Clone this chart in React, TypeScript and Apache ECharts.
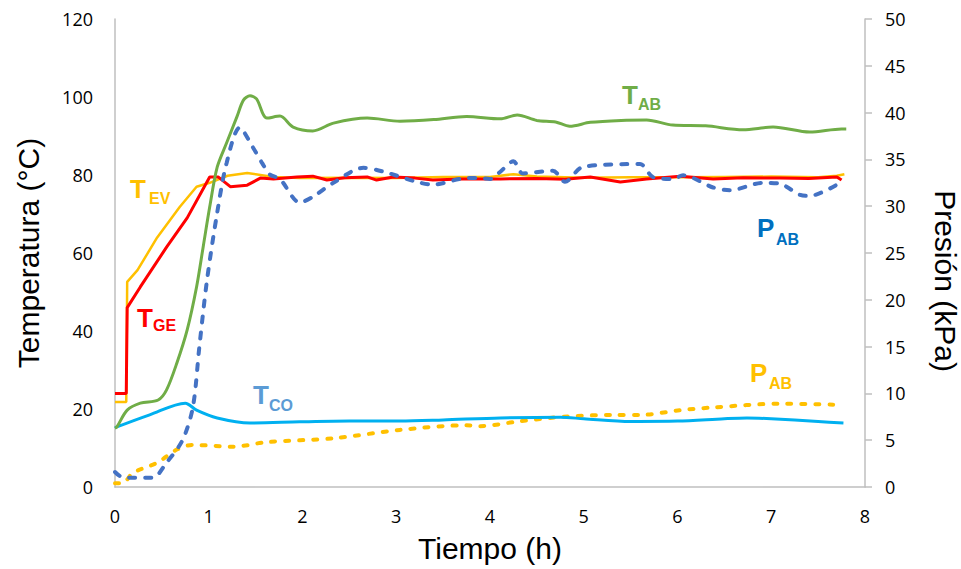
import React, { useEffect, useRef } from "react";
import * as echarts from "echarts";

// ---- Data (time in h) ----
const xTicks = [0, 1, 2, 3, 4, 5, 6, 7, 8];

const tAB_t = [0, 0.02, 0.13, 0.27, 0.46, 0.55, 0.66, 0.77, 0.87, 0.94, 1.01, 1.09, 1.19, 1.3, 1.37, 1.44, 1.51, 1.62, 1.76, 1.9, 2.11, 2.33, 2.69, 3.04, 3.4, 3.75, 4.11, 4.29, 4.5, 4.7, 4.85, 5.07, 5.4, 5.67, 5.95, 6.3, 6.7, 7.02, 7.41, 7.75, 7.8];
const tAB_v = [15.1, 15.4, 19.7, 21.5, 22.3, 24.9, 31.8, 40.3, 51.3, 61.5, 71.8, 82, 88.2, 94.9, 99.2, 100.3, 99.5, 94.6, 95.1, 92.3, 91.3, 93.3, 94.6, 93.8, 94.2, 95, 94.4, 95.4, 94, 93.6, 92.5, 93.5, 94, 94.1, 92.8, 92.6, 91.6, 92.3, 91, 91.8, 91.8];

const tEV_t = [0, 0.12, 0.13, 0.24, 0.45, 0.69, 0.87, 1.01, 1.2, 1.41, 1.69, 1.97, 2.5, 3.0, 3.5, 4.0, 4.25, 4.5, 5.0, 5.5, 6.0, 6.5, 7.0, 7.5, 7.7, 7.78];
const tEV_v = [21.8, 21.8, 52.6, 55.6, 64, 71.8, 77, 78, 79.8, 80.5, 79.5, 79.2, 79.3, 79.2, 79.5, 79.5, 80.2, 79.6, 79.3, 79.4, 79.4, 79.5, 79.6, 79.4, 79.8, 80.2];

const tGE_t = [0, 0.12, 0.13, 0.27, 0.55, 0.77, 1.01, 1.1, 1.23, 1.41, 1.55, 1.69, 1.94, 2.11, 2.26, 2.45, 2.69, 2.79, 2.97, 3.2, 3.39, 3.7, 4.11, 4.5, 4.8, 5.07, 5.39, 5.67, 6.03, 6.38, 6.7, 7.09, 7.4, 7.7, 7.75];
const tGE_v = [24, 24, 46, 51.3, 61.5, 69, 79.5, 79.5, 77, 77.4, 79.2, 79, 79.5, 79.7, 78.7, 79.3, 79.5, 78.7, 79.5, 79.2, 78.7, 79, 79, 79.1, 78.9, 79.5, 78.2, 79, 79.7, 79, 79.3, 79.2, 79.1, 79.5, 78.7];

const tCO_t = [0, 0.02, 0.37, 0.75, 0.87, 1.09, 1.44, 1.97, 2.5, 3.04, 3.5, 4.11, 4.75, 5.0, 5.5, 6.0, 6.5, 6.74, 7.0, 7.5, 7.77];
const tCO_v = [15.1, 15.4, 18.5, 21.5, 19.7, 17.7, 16.4, 16.7, 16.9, 16.9, 17.2, 17.7, 17.9, 17.5, 16.8, 16.9, 17.5, 17.7, 17.5, 16.8, 16.4];

const pABy_t = [0, 0.08, 0.19, 0.45, 0.66, 0.83, 1.26, 1.62, 2.33, 3.04, 3.75, 3.89, 4.3, 4.78, 5.31, 5.6, 6.03, 6.38, 7.09, 7.66];
const pABy_v = [0.4, 0.4, 1.5, 2.6, 4.0, 4.5, 4.3, 4.8, 5.2, 6.1, 6.6, 6.5, 7.0, 7.5, 7.7, 7.7, 8.2, 8.5, 8.9, 8.8];

const pABb_t = [0, 0.09, 0.4, 0.55, 0.72, 0.83, 0.9, 0.98, 1.09, 1.19, 1.33, 1.47, 1.57, 1.65, 1.76, 1.97, 2.11, 2.33, 2.65, 2.86, 3.22, 3.39, 3.75, 3.89, 4.0, 4.1, 4.25, 4.35, 4.67, 4.8, 4.99, 5.6, 5.74, 5.95, 6.06, 6.38, 6.56, 6.91, 7.09, 7.31, 7.41, 7.7];
const pABb_v = [1.6, 1.0, 1.0, 2.6, 5, 8.5, 15, 22, 29.3, 34.6, 38.4, 36.3, 34.6, 33.4, 32.9, 30.4, 31, 32.5, 34.1, 33.7, 32.6, 32.3, 33, 33, 32.9, 33.6, 34.8, 33.5, 33.8, 32.6, 34.2, 34.5, 33.1, 32.9, 33.3, 32, 31.7, 32.5, 32.4, 31.2, 31.1, 32.3];

const zip = (t: number[], v: number[]) => t.map((x, i) => [x, v[i]]);

const TITLE_FONT = "Liberation Sans, Arial, sans-serif";
const TICK_FONT = "Open Sans, Noto Sans, sans-serif";

function seriesLabel(main: string, sub: string, x: number, yMain: number, xSub: number, ySub: number, color: string) {
  return [
    {
      type: "text",
      x,
      y: yMain,
      style: { text: main, fill: color, font: `bold 26px ${TITLE_FONT}`, align: "left", verticalAlign: "middle" },
    },
    {
      type: "text",
      x: xSub,
      y: ySub,
      style: { text: sub, fill: color, font: `bold 16px ${TITLE_FONT}`, align: "left", verticalAlign: "middle" },
    },
  ];
}

export default function App() {
  const ref = useRef<HTMLDivElement>(null);
  useEffect(() => {
    if (!ref.current) return;
    const chart = echarts.init(ref.current, undefined, { renderer: "svg" });
    const axisLine = { show: true, lineStyle: { color: "#BFBFBF", width: 1.5 } };
    const option: any = {
      animation: false,
      backgroundColor: "#ffffff",
      grid: { left: 115, right: 96, top: 19, bottom: 82 },
      xAxis: {
        type: "value",
        min: 0,
        max: 8,
        interval: 1,
        axisLine,
        axisTick: { show: false },
        splitLine: { show: false },
        axisLabel: {
          margin: 20,
          color: "#000",
          fontFamily: TICK_FONT,
          fontSize: 18,
          formatter: (v: number) => (xTicks.includes(v) ? String(v) : ""),
        },
      },
      yAxis: [
        {
          type: "value",
          min: 0,
          max: 120,
          interval: 20,
          position: "left",
          axisLine,
          axisTick: { show: false },
          splitLine: { show: false },
          axisLabel: { margin: 22, color: "#000", fontFamily: TICK_FONT, fontSize: 18 },
        },
        {
          type: "value",
          min: 0,
          max: 50,
          interval: 5,
          position: "right",
          axisLine,
          axisTick: { show: true, inside: false, length: 7, lineStyle: { color: "#BFBFBF", width: 1.5 } },
          splitLine: { show: false },
          axisLabel: { margin: 20, color: "#000", fontFamily: TICK_FONT, fontSize: 18 },
        },
      ],
      series: [
        {
          name: "P_AB kPa amarillo",
          type: "line",
          yAxisIndex: 1,
          data: zip(pABy_t, pABy_v),
          showSymbol: false,
          smooth: 0.3,
          lineStyle: { color: "#FFC000", width: 4, type: [4, 10], cap: "round" },
          z: 2,
        },
        {
          name: "T_CO",
          type: "line",
          data: zip(tCO_t, tCO_v),
          showSymbol: false,
          smooth: 0.3,
          lineStyle: { color: "#00B0F0", width: 3 },
          z: 3,
        },
        {
          name: "T_EV",
          type: "line",
          data: zip(tEV_t, tEV_v),
          showSymbol: false,
          lineStyle: { color: "#FFC000", width: 2.5 },
          z: 3,
        },
        {
          name: "T_GE",
          type: "line",
          data: zip(tGE_t, tGE_v),
          showSymbol: false,
          lineStyle: { color: "#FF0000", width: 3 },
          z: 4,
        },
        {
          name: "T_AB",
          type: "line",
          data: zip(tAB_t, tAB_v),
          showSymbol: false,
          smooth: 0.3,
          lineStyle: { color: "#70AD47", width: 3 },
          z: 4,
        },
        {
          name: "P_AB",
          type: "line",
          yAxisIndex: 1,
          data: zip(pABb_t, pABb_v),
          showSymbol: false,
          smooth: 0.3,
          lineStyle: { color: "#4472C4", width: 4, type: [6, 10], cap: "round" },
          z: 5,
        },
      ],
      graphic: [
        {
          type: "text",
          x: 28,
          y: 253,
          rotation: Math.PI / 2,
          style: { text: "Temperatura (°C)", fill: "#000", font: `30px ${TITLE_FONT}`, align: "center", verticalAlign: "middle" },
        },
        {
          type: "text",
          x: 945,
          y: 281,
          rotation: -Math.PI / 2,
          style: { text: "Presión (kPa)", fill: "#000", font: `30px ${TITLE_FONT}`, align: "center", verticalAlign: "middle" },
        },
        {
          type: "text",
          x: 490,
          y: 548,
          style: { text: "Tiempo (h)", fill: "#000", font: `30px ${TITLE_FONT}`, align: "center", verticalAlign: "middle" },
        },
        ...seriesLabel("T", "EV", 130, 189, 149, 198, "#FFC000"),
        ...seriesLabel("T", "GE", 137, 318, 153, 325, "#FF0000"),
        ...seriesLabel("T", "CO", 253, 395, 269, 405, "#5B9BD5"),
        ...seriesLabel("T", "AB", 622, 95, 638, 104, "#70AD47"),
        ...seriesLabel("P", "AB", 757, 228, 776, 239, "#0070C0"),
        ...seriesLabel("P", "AB", 750, 373, 769, 383, "#FFC000"),
      ],
    };
    chart.setOption(option);
    return () => chart.dispose();
  }, []);
  return <div ref={ref} style={{ position: "fixed", left: 0, top: 0, width: 961, height: 569 }} />;
}
